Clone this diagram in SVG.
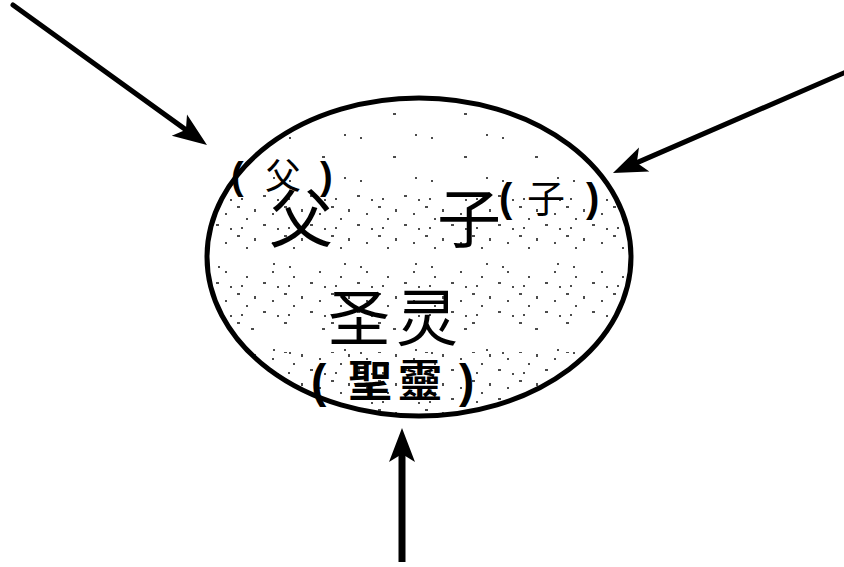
<svg xmlns="http://www.w3.org/2000/svg" width="844" height="567" viewBox="0 0 844 567">
  <style>
    .conn { fill: none; stroke: #000; stroke-width: 5; stroke-linecap: round; }
    .big { font-family: "Noto Sans CJK SC", "Noto Sans CJK TC", sans-serif; fill: #000; }
    .trad { font-family: "Noto Sans CJK TC", "Noto Sans CJK SC", sans-serif; fill: #000; font-weight: bold; }
    .paren { font-family: "Liberation Sans", "DejaVu Sans", sans-serif; font-weight: bold; fill: #000; }
    .dot { fill: #000; }
  </style>
  <defs>
    <marker id="arrow" markerUnits="userSpaceOnUse" markerWidth="40" markerHeight="40" refX="0" refY="0" orient="auto" overflow="visible">
      <path d="M25,0 L-9,-13 L-1,0 L-9,13 Z" fill="#000"/>
    </marker>
    <pattern id="dense" width="47" height="29" patternUnits="userSpaceOnUse">
      <rect class="dot" x="2" y="3" width="3" height="2"/>
      <rect class="dot" x="11" y="15" width="2" height="2"/>
      <rect class="dot" x="19" y="6" width="2" height="3"/>
      <rect class="dot" x="28" y="21" width="3" height="2"/>
      <rect class="dot" x="37" y="10" width="2" height="2"/>
      <rect class="dot" x="6" y="24" width="2" height="2"/>
      <rect class="dot" x="42" y="25" width="2" height="2"/>
    </pattern>
    <pattern id="sparse" width="71" height="43" patternUnits="userSpaceOnUse">
      <rect class="dot" x="5" y="8" width="2" height="2"/>
      <rect class="dot" x="38" y="27" width="3" height="2"/>
      <rect class="dot" x="60" y="5" width="2" height="2"/>
    </pattern>
    <clipPath id="inside">
      <ellipse cx="419" cy="257" rx="210" ry="157"/>
    </clipPath>
  </defs>

  <g id="connectors">
    <line class="conn" x1="13" y1="5" x2="186.7" y2="130.4" marker-end="url(#arrow)"/>
    <line class="conn" x1="846" y1="72" x2="635.9" y2="163.1" marker-end="url(#arrow)"/>
    <line class="conn" x1="402" y1="562" x2="402" y2="453" style="stroke-width:7;stroke-linecap:butt" marker-end="url(#arrow)"/>
  </g>

  <g id="trinity">
    <ellipse cx="419" cy="257" rx="212" ry="159" fill="#fff" stroke="#000" stroke-width="5"/>
    <g clip-path="url(#inside)" opacity="0.7">
      <rect x="200" y="100" width="440" height="95" fill="url(#sparse)"/>
      <rect x="205" y="195" width="420" height="55" fill="url(#dense)"/>
      <rect x="205" y="250" width="420" height="20" fill="url(#sparse)"/>
      <rect x="205" y="270" width="420" height="55" fill="url(#dense)"/>
      <rect x="205" y="325" width="420" height="30" fill="url(#sparse)"/>
      <rect x="235" y="352" width="340" height="65" fill="url(#dense)"/>
    </g>
  </g>

  <g id="father">
    <text x="231" y="189"><tspan class="paren" font-size="38">(</tspan><tspan class="big" font-size="36" x="265">父</tspan><tspan class="paren" font-size="38" x="320">)</tspan></text>
    <text class="big" font-size="64" x="269" y="242">父</text>
  </g>

  <g id="son">
    <text class="big" font-size="64" x="437" y="242">子</text>
    <text x="499" y="212"><tspan class="paren" font-size="40">(</tspan><tspan class="big" font-size="38" x="527">子</tspan><tspan class="paren" font-size="40" x="586">)</tspan></text>
  </g>

  <g id="holy-spirit">
    <text class="big" font-size="62" x="328 396" y="341">圣灵</text>
    <text x="311" y="397"><tspan class="paren" font-size="46">(</tspan><tspan class="trad" font-size="44" x="348">聖</tspan><tspan class="trad" font-size="44" x="398">靈</tspan><tspan class="paren" font-size="46" x="459">)</tspan></text>
  </g>
</svg>
